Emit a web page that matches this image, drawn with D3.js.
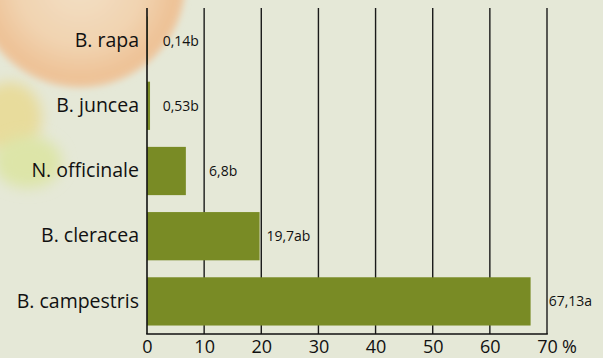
<!DOCTYPE html>
<html>
<head>
<meta charset="utf-8">
<script src="https://cdn.jsdelivr.net/npm/d3@7"></script>
<style>
  html, body { margin: 0; padding: 0; background: #e5e8d7; }
  svg { display: block; }
</style>
</head>
<body>
<svg id="chart" width="603" height="358"></svg>
<script>
const categories = ["B. rapa", "B. juncea", "N. officinale", "B. cleracea", "B. campestris"];
const values = [0.14, 0.53, 6.8, 19.7, 67.13];
const valueLabels = ["0,14b", "0,53b", "6,8b", "19,7ab", "67,13a"];
const labelAt = [2.75, 2.75, 10.85, 20.9, 70.3];
const ticks = [0, 10, 20, 30, 40, 50, 60, 70];
const tickLabels = ["0", "10", "20", "30", "40", "50", "60", "70"];

const svg = d3.select("#chart");
const W = 603, H = 358;
const FONT = "'Open Sans', sans-serif";
const margin = { top: 8, left: 147, right: 56, bottom: 24 };
const x = d3.scaleLinear().domain([0, 70]).range([margin.left, W - margin.right]);
const y = d3.scaleBand().domain(categories).range([margin.top, H - margin.bottom]).paddingInner(0.26).paddingOuter(0.13);

// background decoration
const defs = svg.append("defs");
const g1 = defs.append("radialGradient").attr("id", "orange");
g1.append("stop").attr("offset", "0%").attr("stop-color", "#f3e0c6");
g1.append("stop").attr("offset", "60%").attr("stop-color", "#f1d3b0");
g1.append("stop").attr("offset", "92%").attr("stop-color", "#eec195");
g1.append("stop").attr("offset", "100%").attr("stop-color", "#eccdaa");
defs.append("filter").attr("id", "blur").attr("x", "-20%").attr("y", "-20%").attr("width", "140%").attr("height", "140%")
  .append("feGaussianBlur").attr("stdDeviation", 3);
defs.append("filter").attr("id", "blur2").attr("x", "-50%").attr("y", "-50%").attr("width", "200%").attr("height", "200%")
  .append("feGaussianBlur").attr("stdDeviation", 7);

svg.append("rect").attr("width", W).attr("height", H).attr("fill", "#e5e8d7");
const deco = svg.append("g");
deco.append("ellipse").attr("cx", 10).attr("cy", 118).attr("rx", 32).attr("ry", 36).attr("fill", "#e8dc9c").attr("filter", "url(#blur2)");
deco.append("ellipse").attr("cx", 28).attr("cy", 162).attr("rx", 34).attr("ry", 26).attr("fill", "#dde5a8").attr("filter", "url(#blur2)");
deco.append("circle").attr("cx", 80).attr("cy", -18).attr("r", 106).attr("fill", "url(#orange)").attr("filter", "url(#blur)");

// gridlines
svg.append("g").selectAll("line").data(ticks.slice(1)).join("line")
  .attr("x1", d => x(d)).attr("x2", d => x(d))
  .attr("y1", margin.top).attr("y2", H - margin.bottom)
  .attr("stroke", "#1a1a1a").attr("stroke-width", 1.4);

// bars
svg.append("g").selectAll("rect").data(values).join("rect")
  .attr("x", x(0))
  .attr("y", (d, i) => y(categories[i]))
  .attr("width", d => x(d) - x(0))
  .attr("height", y.bandwidth())
  .attr("fill", "#798b25");

// axes lines
svg.append("line").attr("x1", x(0)).attr("x2", x(0)).attr("y1", margin.top).attr("y2", H - margin.bottom)
  .attr("stroke", "#111").attr("stroke-width", 1.6);
svg.append("line").attr("x1", x(0) - 0.8).attr("x2", x(70) + 0.8).attr("y1", H - margin.bottom).attr("y2", H - margin.bottom)
  .attr("stroke", "#111").attr("stroke-width", 1.6);

// x tick labels
const xAxis = d3.axisBottom(x).tickValues(ticks).tickFormat((d, i) => tickLabels[i]).tickSize(0).tickPadding(0);
const ax = svg.append("g").attr("transform", `translate(0,${H - margin.bottom})`).call(xAxis);
ax.select(".domain").remove();
ax.selectAll("text").attr("dy", null).attr("y", 18.5)
  .attr("font-family", FONT).attr("font-size", 18).attr("fill", "#111");
svg.append("text").attr("x", x(70) + 15).attr("y", H - margin.bottom + 18.5)
  .attr("font-family", FONT).attr("font-size", 18).attr("fill", "#111").text("%");

// category labels
const yAxis = d3.axisLeft(y).tickSize(0).tickPadding(8);
const ay = svg.append("g").attr("transform", `translate(${x(0)},0)`).call(yAxis);
ay.select(".domain").remove();
ay.selectAll("text").attr("font-family", FONT).attr("font-size", 19.5).attr("fill", "#111");

// value labels
svg.append("g").selectAll("text").data(valueLabels).join("text")
  .attr("x", (d, i) => x(labelAt[i]))
  .attr("y", (d, i) => y(categories[i]) + y.bandwidth() / 2)
  .attr("dy", "0.35em")
  .attr("font-family", FONT).attr("font-size", 14).attr("fill", "#111")
  .text(d => d);
</script>
</body>
</html>
